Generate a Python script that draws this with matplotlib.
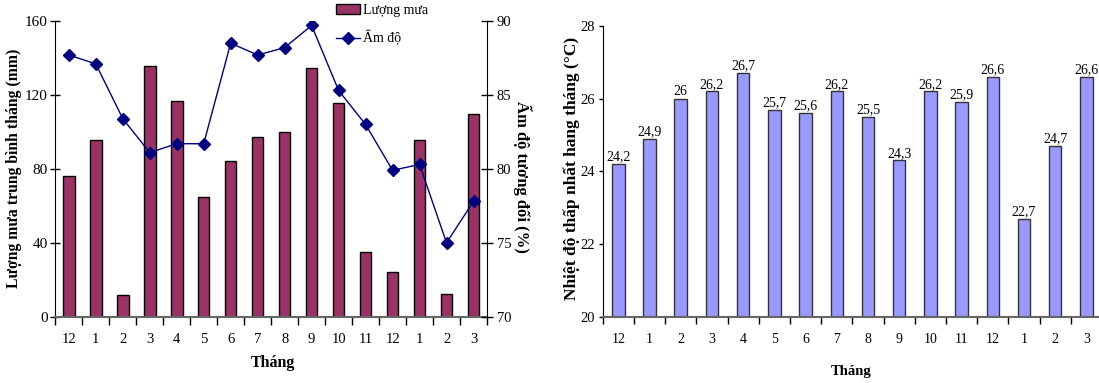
import numpy as np
import matplotlib
matplotlib.use("Agg")
import matplotlib.pyplot as plt
from matplotlib.patches import Patch
from matplotlib.lines import Line2D

plt.rcParams['font.family'] = ['Liberation Serif', 'DejaVu Serif']

# Months (Dec to Mar of the following year)
months = ["12", "1", "2", "3", "4", "5", "6", "7", "8", "9", "10", "11", "12", "1", "2", "3"]

# Monthly rainfall (mm)
rainfall = [76, 95.5, 12, 135.5, 116.5, 65, 84, 97, 100, 134.5, 115.5, 35, 24, 95.5, 12.5, 109.5]

# Relative humidity (%)
humidity = [87.7, 87.1, 83.4, 81.1, 81.7, 81.7, 88.5, 87.7, 88.2, 89.7, 85.3, 83.0, 79.9, 80.3, 75.0, 77.8]

# Lowest monthly temperature (°C)
min_temp = [24.2, 24.9, 26.0, 26.2, 26.7, 25.7, 25.6, 26.2, 25.5, 24.3, 26.2, 25.9, 26.6, 22.7, 24.7, 26.6]

W, H = 1099, 383
fig = plt.figure(figsize=(W / 100, H / 100), dpi=100)

def fbox(x0, y0, x1, y1):
    return [x0 / W, 1 - y1 / H, (x1 - x0) / W, (y1 - y0) / H]

x = np.arange(len(months))

# ---------------- Left panel: rainfall + humidity ----------------
ax1 = fig.add_axes(fbox(55.3, 21, 487, 316.7))
ax1.bar(x, rainfall, width=0.43, color="#993366", edgecolor="black", linewidth=1, zorder=2)
ax1.set_xlim(-0.5, len(months) - 0.5)
ax1.set_ylim(0, 160)
ax1.set_yticks([0, 40, 80, 120, 160])
ax1.set_xticks(x)
ax1.set_xticklabels(months)
ax1.set_xticks(np.arange(-0.5, len(months), 1), minor=True)
ax1.tick_params(axis="x", which="major", length=0, pad=12, labelsize=10.5)
ax1.tick_params(axis="x", which="minor", length=6, width=1, direction="out")
ax1.tick_params(axis="y", length=7, width=1, direction="inout", pad=2, labelsize=11)
ax1.spines["top"].set_visible(False)
ax1.spines["right"].set_visible(False)
ax1.spines["bottom"].set_color("#666666")
ax1.spines["bottom"].set_linewidth(1.5)
fig.text(14 / W, 1 - 168 / H, "Lượng mưa trung bình tháng (mm)", rotation=90,
         ha="center", va="center", fontsize=11.3, fontweight="bold")
fig.text(273 / W, 1 - 363 / H, "Tháng", ha="center", va="center",
         fontsize=11.5, fontweight="bold")

ax2 = ax1.twinx()
ax2.plot(x, humidity, color="#000080", linewidth=1, marker="D", markersize=6.5, zorder=3)
ax2.set_ylim(70, 90)
ax2.set_yticks([70, 75, 80, 85, 90])
ax2.tick_params(axis="y", length=8, width=1, direction="inout", pad=3, labelsize=10.5)
for s in ("top", "left", "bottom"):
    ax2.spines[s].set_visible(False)
fig.text(522 / W, 1 - 177 / H, "Ẩm độ tương đối (%)", rotation=270,
         ha="center", va="center", fontsize=12, fontweight="bold")

handles = [
    Patch(facecolor="#993366", edgecolor="black", linewidth=1),
    Line2D([0], [0], color="#000080", linewidth=1, marker="D", markersize=6.5),
]
fig.legend(handles, ["Lượng mưa", "Ẩm độ"], loc="upper left",
           bbox_to_anchor=(336 / W, 1 - 4 / H), bbox_transform=fig.transFigure,
           frameon=False, fontsize=10, borderpad=0, borderaxespad=0,
           handlelength=1.75, handletextpad=0.2, labelspacing=0.95)

# ---------------- Right panel: minimum temperature ----------------
ax3 = fig.add_axes(fbox(602.7, 26, 1102, 316.7))
ax3.bar(x, min_temp, width=0.4, color="#9999FF", edgecolor="#333333", linewidth=1, zorder=2)
ax3.set_xlim(-0.5, len(months) - 0.5)
ax3.set_ylim(20, 28)
ax3.set_yticks([20, 22, 24, 26, 28])
ax3.set_xticks(x)
ax3.set_xticklabels(months)
ax3.set_xticks(np.arange(-0.5, len(months), 1), minor=True)
ax3.tick_params(axis="x", which="major", length=0, pad=12, labelsize=10)
ax3.tick_params(axis="x", which="minor", length=5, width=1, direction="out")
ax3.tick_params(axis="y", length=3, width=1, direction="out", pad=2.5, labelsize=10.5)
ax3.spines["top"].set_visible(False)
ax3.spines["right"].set_visible(False)
ax3.spines["bottom"].set_color("#666666")
ax3.spines["bottom"].set_linewidth(1.5)
fig.text(572 / W, 1 - 168 / H, "Nhiệt độ thấp nhất hang tháng (°C)", rotation=90,
         ha="center", va="center", fontsize=12.5, fontweight="bold")
fig.text(851 / W, 1 - 371 / H, "Tháng", ha="center", va="center",
         fontsize=10.5, fontweight="bold")

def fmt(v):
    s = f"{v:.1f}"
    if s.endswith(".0"):
        s = s[:-2]
    return s.replace(".", ",")

for xi, v in zip(x, min_temp):
    ax3.annotate(fmt(v), (xi, v), xytext=(0, 0.5), textcoords="offset points",
                 ha="center", va="bottom", fontsize=10)

fig.savefig("out.png", dpi=100)
